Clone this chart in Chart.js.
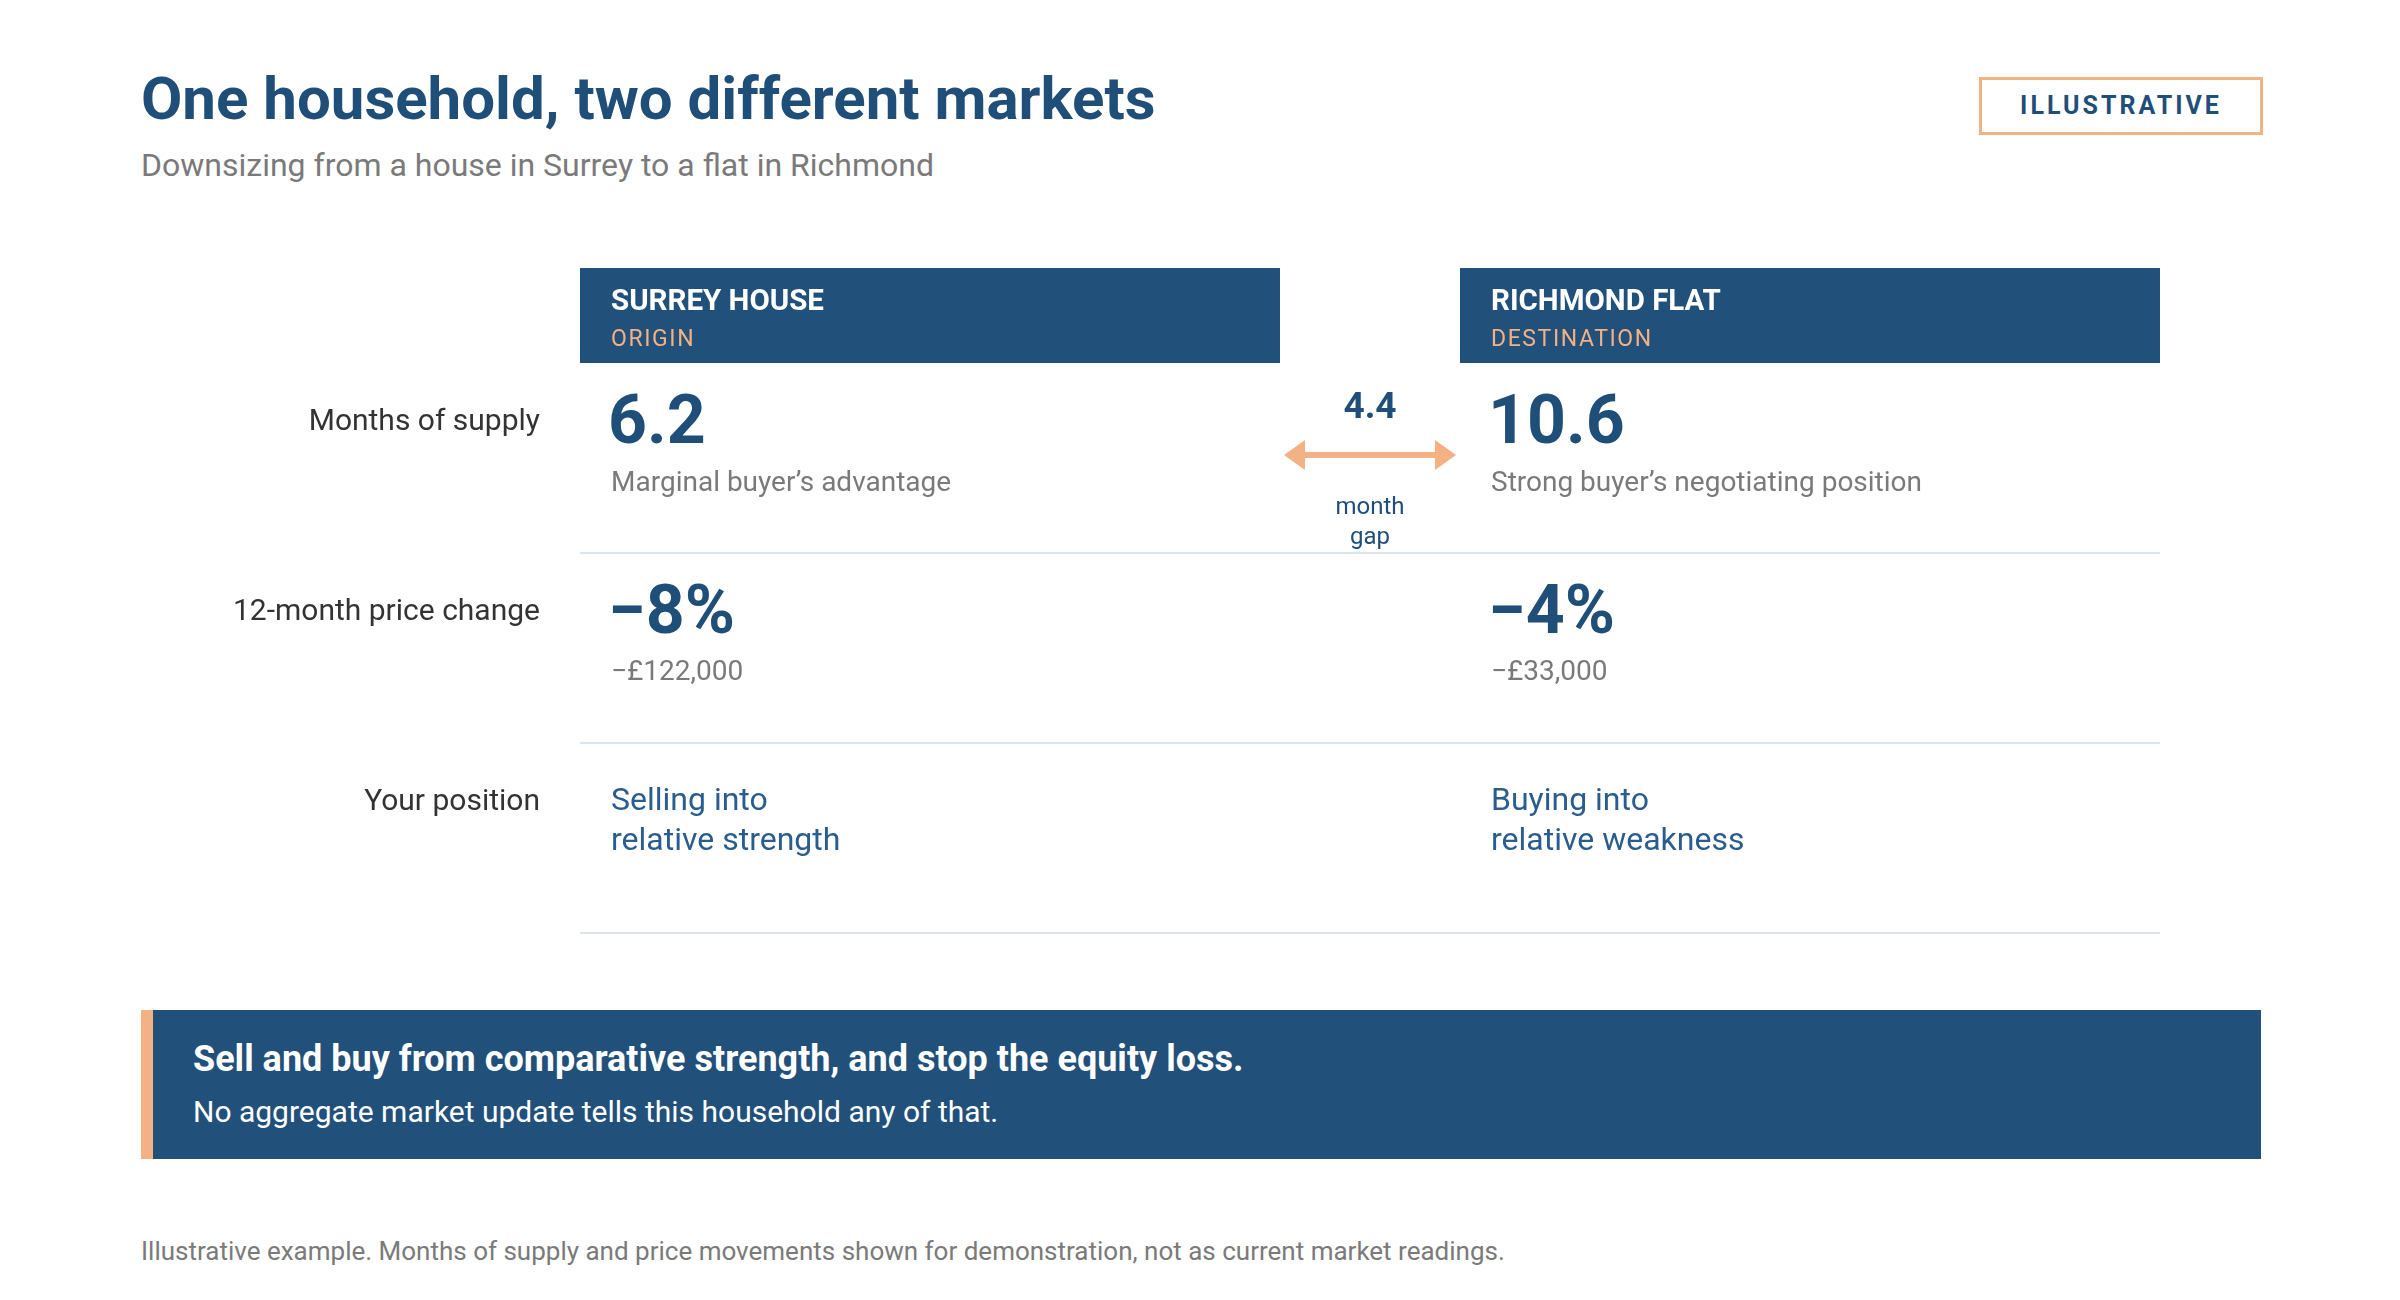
<!DOCTYPE html>
<html>
<head>
<meta charset="utf-8">
<title>One household, two different markets</title>
<script src="https://cdn.jsdelivr.net/npm/chart.js@4.4.1/dist/chart.umd.min.js"></script>
<style>
  html, body { margin: 0; padding: 0; background: #fff; }
  body { width: 2400px; height: 1300px; position: relative; font-family: Roboto, "Open Sans", sans-serif; overflow: hidden; }
  #title { position: absolute; left: 141px; top: 63px; margin: 0; font-size: 60px; font-weight: 700; color: #1f4e79; }
  #subtitle { position: absolute; left: 141px; top: 146px; margin: 0; font-size: 32px; color: #7a7a7a; }
  #badge { position: absolute; left: 1979px; top: 77px; width: 278px; height: 52px; border: 3px solid #f4b183;
           font-size: 25px; font-weight: 700; letter-spacing: 3px; color: #1f4e79; text-align: center; line-height: 52px; }
  #tableWrap { position: absolute; left: 0; top: 268px; width: 2400px; height: 680px; }
  #banner { position: absolute; left: 141px; top: 1010px; width: 2120px; height: 149px; background: #21507a;
            border-left: 12px solid #f4b183; box-sizing: border-box; }
  #banner .head { position: absolute; left: 40px; top: 28px; font-size: 36px; font-weight: 700; color: #fff; }
  #banner .sub { position: absolute; left: 40px; top: 84px; font-size: 30px; color: #fff; }
  #foot { position: absolute; left: 141px; top: 1236px; font-size: 26px; color: #7a7a7a; }
</style>
</head>
<body>
<h1 id="title">One household, two different markets</h1>
<p id="subtitle">Downsizing from a house in Surrey to a flat in Richmond</p>
<div id="badge">ILLUSTRATIVE</div>

<div id="tableWrap"><canvas id="grid"></canvas></div>

<div id="banner">
  <div class="head">Sell and buy from comparative strength, and stop the equity loss.</div>
  <div class="sub">No aggregate market update tells this household any of that.</div>
</div>
<div id="foot">Illustrative example. Months of supply and price movements shown for demonstration, not as current market readings.</div>

<script>
// data
var markets = ['SURREY HOUSE', 'RICHMOND FLAT'];
var roles = ['ORIGIN', 'DESTINATION'];
var rowLabels = ['Months of supply', '12-month price change', 'Your position'];
var monthsSupply = [6.2, 10.6];
var supplyNotes = ['Marginal buyer\u2019s advantage', 'Strong buyer\u2019s negotiating position'];
var priceChangePct = [-8, -4];
var priceChangeGbp = [-122000, -33000];
var positions = [['Selling into', 'relative strength'], ['Buying into', 'relative weakness']];
var gapLabel = ['month', 'gap'];

var NAVY = '#1f4e79';
var ORANGE = '#f4b183';
var GREY = '#7a7a7a';
var LINE = '#dbe3ed';
var GAP_W = 180; // space between the two columns
var HEAD_H = 95;

function fmtPct(v) { return (v < 0 ? '\u2212' : '+') + Math.abs(v) + '%'; }
function fmtGbp(v) { return (v < 0 ? '\u2212' : '+') + '\u00a3' + Math.abs(v).toLocaleString('en-GB'); }

function txt(ctx, s, x, y, font, color, align) {
    ctx.font = font;
    ctx.fillStyle = color;
    ctx.textAlign = align || 'left';
    ctx.textBaseline = 'middle';
    ctx.fillText(s, x, y);
}

// draws header boxes, cell contents and the gap arrow off the scales
var cellsPlugin = {
    id: 'cells',
    afterDraw: function(chart) {
        var ctx = chart.ctx, area = chart.chartArea;
        var y = chart.scales.y;
        var boxW = (area.right - area.left - GAP_W) / 2;
        var rowH = Math.abs(y.getPixelForValue(1) - y.getPixelForValue(0));
        ctx.save();

        markets.forEach(function(m, i) {
            var left = area.left + i * (boxW + GAP_W);
            var tx = left + 31;
            ctx.fillStyle = '#21507a';
            ctx.fillRect(left, area.top - HEAD_H, boxW, HEAD_H);
            txt(ctx, m, tx, area.top - 60, '700 29.5px Roboto', '#ffffff');
            ctx.save();
            ctx.letterSpacing = '1.6px';
            txt(ctx, roles[i], tx, area.top - 23, '400 23px Roboto', ORANGE);
            ctx.restore();

            // row 1: months of supply
            var top0 = y.getPixelForValue(0) - rowH / 2;
            txt(ctx, monthsSupply[i].toFixed(1), tx - 3, top0 + 63, '700 68px Roboto', NAVY);
            txt(ctx, supplyNotes[i], tx, top0 + 121, '400 28px Roboto', GREY);

            // row 2: price change
            var top1 = y.getPixelForValue(1) - rowH / 2;
            txt(ctx, fmtPct(priceChangePct[i]), tx - 3, top1 + 63, '700 68px Roboto', NAVY);
            txt(ctx, fmtGbp(priceChangeGbp[i]), tx, top1 + 120, '400 28px Roboto', GREY);

            // row 3: position
            var top2 = y.getPixelForValue(2) - rowH / 2;
            txt(ctx, positions[i][0], tx, top2 + 59, '400 32px Roboto', '#2a5d8f');
            txt(ctx, positions[i][1], tx, top2 + 99, '400 32px Roboto', '#2a5d8f');
        });

        // gap between the two supply readings
        var gx = area.left + boxW + GAP_W / 2;
        var top = y.getPixelForValue(0) - rowH / 2;
        var gap = (monthsSupply[1] - monthsSupply[0]).toFixed(1);
        txt(ctx, gap, gx, top + 46, '700 37px Roboto', NAVY, 'center');
        var ax0 = area.left + boxW + 4, ax1 = area.left + boxW + GAP_W - 4, ay = top + 92;
        ctx.strokeStyle = ORANGE;
        ctx.fillStyle = ORANGE;
        ctx.lineWidth = 6;
        ctx.beginPath();
        ctx.moveTo(ax0 + 14, ay);
        ctx.lineTo(ax1 - 14, ay);
        ctx.stroke();
        ctx.beginPath();
        ctx.moveTo(ax0, ay); ctx.lineTo(ax0 + 21, ay - 15); ctx.lineTo(ax0 + 21, ay + 15); ctx.closePath(); ctx.fill();
        ctx.beginPath();
        ctx.moveTo(ax1, ay); ctx.lineTo(ax1 - 21, ay - 15); ctx.lineTo(ax1 - 21, ay + 15); ctx.closePath(); ctx.fill();
        txt(ctx, gapLabel[0], gx, top + 145, '400 24px Roboto', NAVY, 'center');
        txt(ctx, gapLabel[1], gx, top + 175, '400 24px Roboto', NAVY, 'center');

        ctx.restore();
    }
};

new Chart(document.getElementById('grid'), {
    type: 'bar',
    data: { labels: markets, datasets: [] },
    options: {
        responsive: true,
        maintainAspectRatio: false,
        animation: false,
        events: [],
        layout: { padding: { top: HEAD_H, right: 240, bottom: 15, left: 0 } },
        plugins: { legend: { display: false }, tooltip: { enabled: false } },
        scales: {
            x: { type: 'category', offset: true, display: false },
            y: {
                type: 'category',
                labels: rowLabels,
                offset: true,
                afterFit: function(scale) {
                    scale.width = 580;
                    scale.paddingTop = 0;
                    scale.paddingBottom = 0;
                },
                border: { display: false },
                grid: {
                    offset: true,
                    drawTicks: false,
                    lineWidth: 2,
                    color: function(c) { return c.index === 0 ? 'rgba(0,0,0,0)' : LINE; }
                },
                ticks: {
                    padding: 40,
                    labelOffset: -36,
                    color: '#333333',
                    font: { family: 'Roboto', size: 30 }
                }
            }
        }
    },
    plugins: [cellsPlugin]
});
</script>
</body>
</html>
